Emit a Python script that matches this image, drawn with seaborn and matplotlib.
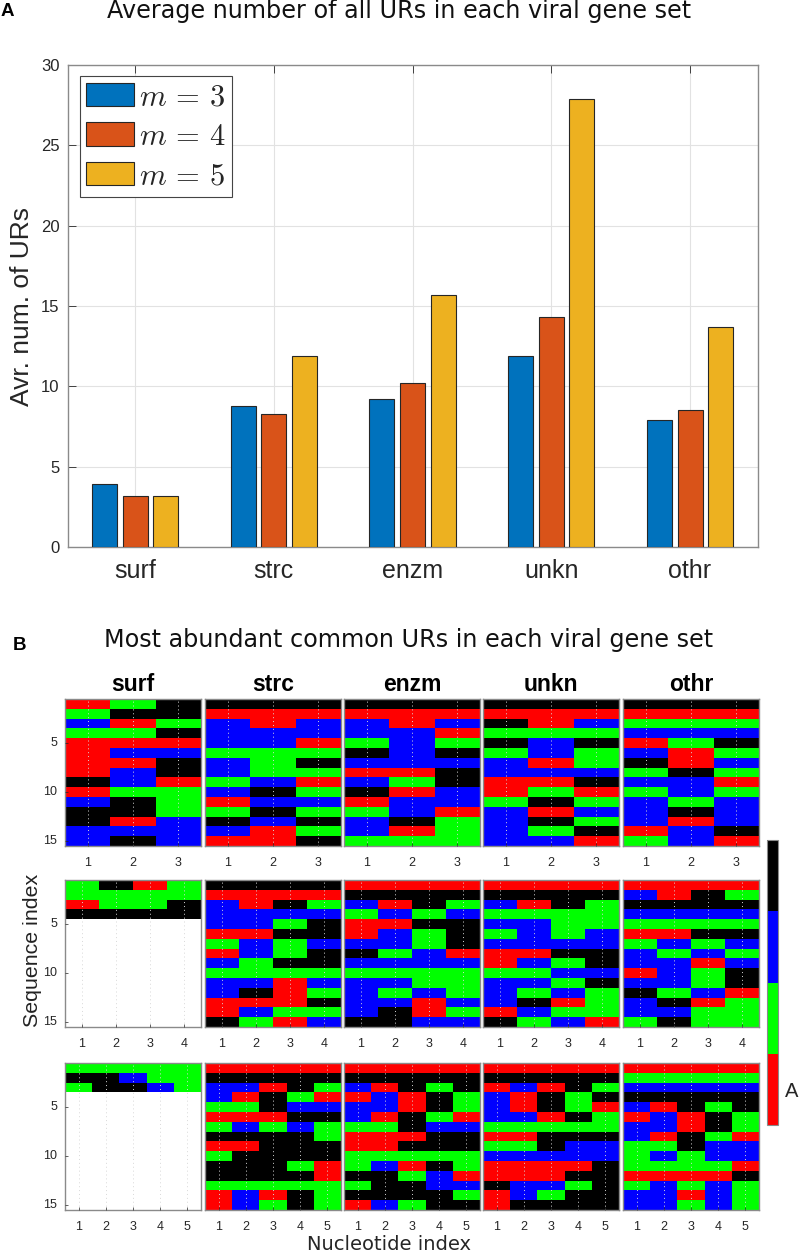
import numpy as np
import pandas as pd
import seaborn as sns
import matplotlib.pyplot as plt
from matplotlib.colors import ListedColormap

# panel A values
gene_sets = ["surf", "strc", "enzm", "unkn", "othr"]
avg_m3 = [3.9, 8.8, 9.2, 11.9, 7.9]
avg_m4 = [3.15, 8.3, 10.2, 14.3, 8.55]
avg_m5 = [3.2, 11.9, 15.7, 27.9, 13.7]

# panel B, one string per sequence, R G B K = the four colour bar blocks
surf_m3 = ["RGK", "GKK", "BRG", "GGK", "RRR", "RBB", "RRK", "RBK", "KBR", "RGG", "BKG", "KKG", "KRB", "BBB", "BKB"]
strc_m3 = ["KKK", "RRR", "BRB", "BBB", "BBR", "GGG", "BGK", "BGG", "GBR", "BKG", "RBB", "GKG", "KBK", "BRG", "RRK"]
enzm_m3 = ["KKK", "RRR", "BRB", "BBR", "GBG", "KBK", "BBB", "RRK", "BGK", "KRB", "RBB", "GBR", "BKG", "BRG", "GGG"]
unkn_m3 = ["KKK", "RRR", "KRB", "GGG", "KBK", "GBG", "BRG", "BBB", "RRK", "RGR", "GKG", "BRB", "BKG", "BGK", "BBR"]
othr_m3 = ["KKK", "RRR", "GGG", "BBB", "RGK", "BRG", "KRB", "GKG", "BBR", "GBG", "BGB", "BKB", "BRB", "RBK", "GBR"]

surf_m4 = ["GKRG", "GGGG", "RGGK", "KKKK"]
strc_m4 = ["KKKK", "RRRR", "BRKG", "BBBB", "BBGK", "RRKK", "GBGB", "RBGK", "BGKK", "GGGG", "BBRB", "BKRG", "RRRK", "RBGG", "KGRB"]
enzm_m4 = ["RRRR", "KKKK", "BRKG", "GBGB", "RRKK", "RBGK", "BBGK", "KGBR", "BBBB", "GGGG", "BBGG", "BGBG", "BBRB", "BKRG", "KKBB"]
unkn_m4 = ["RRRR", "KKKK", "BRKG", "GGGG", "BBGG", "GBGB", "BBBB", "RRKK", "RBGK", "GGBB", "BBGK", "BGBG", "BKRG", "RBGG", "KGBR"]
othr_m4 = ["RRRR", "BRKG", "KKKK", "BBBB", "GGGG", "RRKK", "GBGB", "BGBG", "BBRB", "RBGK", "BBGK", "KGBR", "BKRG", "BBGG", "GKGG"]

surf_m5 = ["GGGGG", "KKBGG", "GKKBG"]
strc_m5 = ["RRRRR", "KKKKK", "BBRKG", "BRKGR", "GGKBB", "RRRKK", "GBGBG", "KKKKG", "RRKKK", "GKKKK", "KKKGR", "KKKKR", "GGGGG", "RBRKG", "RBGKG"]
enzm_m5 = ["RRRRR", "KKKKK", "BRKGK", "RBRKG", "BBRKG", "BRKGR", "GGKBB", "RRRKK", "RRKKK", "GGGGG", "GBRKG", "KKGBR", "GKKBB", "KKKKG", "RBGKK"]
unkn_m5 = ["RRRRR", "KKKKK", "RBRKG", "BRKGK", "BRKGR", "BBRKG", "GGGGG", "RRKKK", "GGKBB", "BBBBB", "RRRRK", "RRRKK", "KBBGK", "RBGKK", "RKKKK"]
othr_m5 = ["RRRRR", "GGGGG", "BBBBB", "KKKKK", "BRKGK", "RBRKG", "BBRKG", "BRKGR", "GGKBB", "GBGBB", "GGGGR", "RRRRK", "GBGBG", "BBRBG", "BBGBG"]

grid_rows = [
    [surf_m3, strc_m3, enzm_m3, unkn_m3, othr_m3],
    [surf_m4, strc_m4, enzm_m4, unkn_m4, othr_m4],
    [surf_m5, strc_m5, enzm_m5, unkn_m5, othr_m5],
]

W, H = 800, 1253
SANS = "Liberation Sans"

sns.set_theme(style="whitegrid")
plt.rcParams["font.family"] = [SANS, "DejaVu Sans"]
plt.rcParams["mathtext.fontset"] = "cm"

fig = plt.figure(figsize=(W / 100, H / 100), dpi=100)


def px_axes(x0, y0, x1, y1):
    # pixel box from the top left corner -> figure fractions
    return fig.add_axes([x0 / W, 1 - y1 / H, (x1 - x0) / W, (y1 - y0) / H])


def px_text(x, y, s, **kw):
    fig.text(x / W, 1 - y / H, s, ha=kw.pop("ha", "center"), va=kw.pop("va", "center"), **kw)


# --- panel A
ax = px_axes(68, 65, 758, 547)
df = pd.DataFrame({"set": gene_sets * 3,
                   "m": [r"$m\,=\,3$"] * 5 + [r"$m\,=\,4$"] * 5 + [r"$m\,=\,5$"] * 5,
                   "avg": avg_m3 + avg_m4 + avg_m5})
sns.barplot(data=df, x="set", y="avg", hue="m", ax=ax, width=0.664, gap=0.186, saturation=1,
            palette=["#0072BD", "#D95319", "#EDB120"], edgecolor="#262626", linewidth=0.8, zorder=3)
ax.set_xlim(-0.483, 4.49)
ax.set_ylim(0, 30)
ax.set_yticks([0, 5, 10, 15, 20, 25, 30])
ax.set_xlabel("")
ax.set_ylabel("Avr. num. of URs", fontsize=19, color="#262626", labelpad=5)
ax.tick_params(axis="y", labelsize=12, colors="#262626", direction="in", length=6, width=0.6, left=True, pad=6)
ax.tick_params(axis="x", labelsize=18, colors="#262626", direction="in", length=6, width=0.6, top=True, bottom=True, pad=9)
ax.grid(True, color="#e2e2e2", linewidth=0.8)
ax.set_axisbelow(True)
for s in ax.spines.values():
    s.set_color("#8a8a8a")
    s.set_linewidth(1.0)
leg = ax.legend(loc="upper left", bbox_to_anchor=(12 / 690, 1 - 11 / 482), borderaxespad=0, fontsize=22,
                fancybox=False, framealpha=1, edgecolor="#444444", handlelength=1.57, handleheight=0.82,
                labelspacing=0.31, handletextpad=0.16, borderpad=0.2)
leg.get_frame().set_linewidth(0.8)

# --- panel B
xedges = [(65, 201), (205, 341), (344, 480), (483, 619), (623, 759)]
yedges = [(699, 846), (880, 1027), (1063, 1210)]
code = {"R": 0, "G": 1, "B": 2, "K": 3}
cmap = ListedColormap(["#ff0000", "#00ff00", "#0000ff", "#000000"])
cax = px_axes(767, 840, 778, 1125)
cb = None

for r, row in enumerate(grid_rows):
    for c, seqs in enumerate(row):
        a = px_axes(xedges[c][0], yedges[r][0], xedges[c][1], yedges[r][1])
        n = len(seqs[0])
        mat = np.full((15, n), np.nan)
        for i, s in enumerate(seqs):
            mat[i] = [code[ch] for ch in s]
        first = (r == 0 and c == 0)
        sns.heatmap(mat, ax=a, cmap=cmap, vmin=0, vmax=3, cbar=first, cbar_ax=cax if first else None,
                    xticklabels=list(range(1, n + 1)), rasterized=True)
        if first:
            cb = a.collections[0].colorbar
        a.set_yticks([4.5, 9.5, 14.5])
        a.set_yticklabels(["5", "10", "15"] if c == 0 else ["", "", ""], rotation=0)
        a.tick_params(axis="x", labelsize=9, colors="#262626", direction="in", length=2, width=0.5, bottom=True, pad=8, labelrotation=0)
        a.tick_params(axis="y", labelsize=9, colors="#262626", direction="in", length=2 if c == 0 else 0, width=0.5, left=True, pad=5.5)
        a.grid(False)
        a.xaxis.grid(True, color="#d8d8d8", linestyle=(0, (1, 3)), linewidth=0.7)
        a.set_axisbelow(False)
        a.yaxis.grid(False)
        for s in a.spines.values():
            s.set_visible(True)
            s.set_color("#8a8a8a")
            s.set_linewidth(1.0)
        if r == 0:
            a.set_title(gene_sets[c], fontsize=16.5, fontweight="bold", color="black", pad=6)

cb.set_ticks([0.375, 1.125, 1.875, 2.625], labels=["A", "", "", ""])
cb.ax.tick_params(labelsize=14.5, colors="#262626", direction="in", length=2, width=0.5, pad=5)
cb.outline.set_visible(True)
cb.outline.set_edgecolor("#8a8a8a")
cb.outline.set_linewidth(0.8)

# figure labels
px_text(399, 11, "Average number of all URs in each viral gene set", fontsize=17.2, family="DejaVu Sans", color="#111111")
px_text(409, 640, "Most abundant common URs in each viral gene set", fontsize=17.2, family="DejaVu Sans", color="#111111")
px_text(7.5, 11, "A", fontsize=13.5, fontweight="bold", color="black")
px_text(19, 645, "B", fontsize=13.5, fontweight="bold", color="black")
px_text(33, 950, "Sequence index", fontsize=15.4, rotation=90, color="#222222")
px_text(389, 1245, "Nucleotide index", fontsize=14, family="DejaVu Sans", color="#262626")

fig.savefig("out.png", dpi=100)
